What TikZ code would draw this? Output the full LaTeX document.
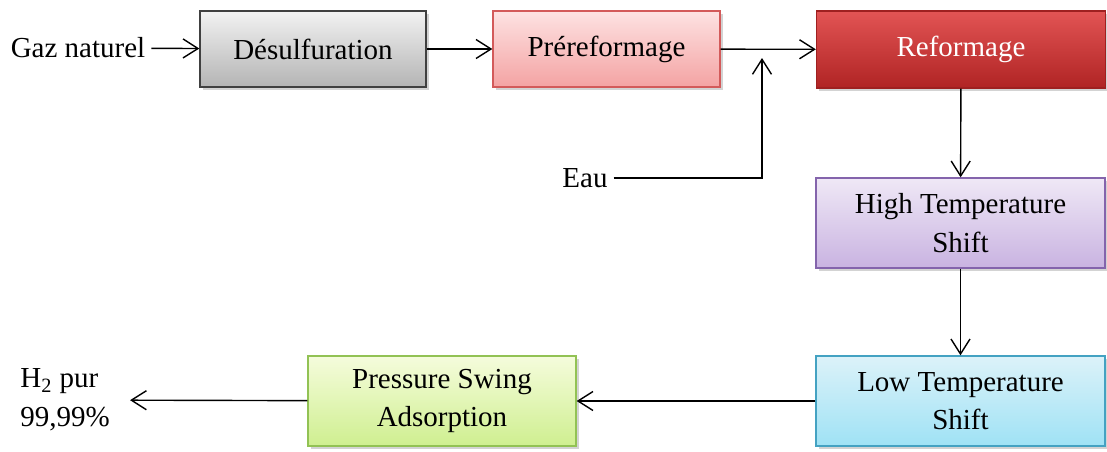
\documentclass[tikz,border=0pt]{standalone}
\usepackage{fontspec}
\setmainfont{Liberation Serif}
\usepackage{tikz}
\usetikzlibrary{arrows.meta,shadows}

\definecolor{greyTop}{HTML}{F2F2F2}
\definecolor{greyBot}{HTML}{B4B4B4}
\definecolor{pinkTop}{HTML}{FDE2E2}
\definecolor{pinkBot}{HTML}{F4A3A3}
\definecolor{pinkLine}{HTML}{D35A5A}
\definecolor{redTop}{HTML}{E25454}
\definecolor{redBot}{HTML}{B02424}
\definecolor{redLine}{HTML}{9E2020}
\definecolor{lilacTop}{HTML}{EFE8F6}
\definecolor{lilacBot}{HTML}{C9B3E1}
\definecolor{lilacLine}{HTML}{8464AC}
\definecolor{skyTop}{HTML}{DCF2F9}
\definecolor{skyBot}{HTML}{9FE2F5}
\definecolor{skyLine}{HTML}{44A2C2}
\definecolor{limeTop}{HTML}{F5FCDC}
\definecolor{limeBot}{HTML}{CFEF90}
\definecolor{limeLine}{HTML}{92C254}

\begin{document}
\begin{tikzpicture}[x=0.02cm, y=-0.02cm,
    every node/.style={font=\fontsize{16.5}{22}\selectfont},
    unit/.style={draw, rectangle, align=center, line width=0.8pt,
      drop shadow={shadow xshift=1.5pt, shadow yshift=-1.5pt, opacity=0.35}},
    flow/.style={-{Straight Barb[length=3mm, width=3.8mm]}, line width=0.8pt}]
  \useasboundingbox (0,0) rectangle (1107,451);
  % process units
  \node[unit, top color=greyTop, bottom color=greyBot, draw=black!75,
        minimum width=4.52cm, minimum height=1.52cm] (desulf) at (313,49) {Désulfuration};
  \node[unit, top color=pinkTop, bottom color=pinkBot, draw=pinkLine,
        minimum width=4.54cm, minimum height=1.52cm] (preref) at (606.5,49) {Préreformage};
  \node[unit, top color=redTop, bottom color=redBot, draw=redLine, text=white,
        minimum width=5.78cm, minimum height=1.54cm] (reform) at (961,49.5) {Reformage};
  \node[unit, top color=lilacTop, bottom color=lilacBot, draw=lilacLine,
        minimum width=5.78cm, minimum height=1.8cm] (hts) at (960.5,223) {High Temperature\\Shift};
  \node[unit, top color=skyTop, bottom color=skyBot, draw=skyLine,
        minimum width=5.78cm, minimum height=1.8cm] (lts) at (960.5,401) {Low Temperature\\Shift};
  \node[unit, top color=limeTop, bottom color=limeBot, draw=limeLine,
        minimum width=5.36cm, minimum height=1.8cm] (psa) at (442,401) {Pressure Swing\\Adsorption};
  % feeds and product
  \node (gaz) at (78,48) {Gaz naturel};
  \node (eau) at (585,178) {Eau};
  \node[anchor=west, align=left, inner sep=0pt] (h2) at (20,400) {H\textsubscript{2} pur\\99,99\%};
  \coordinate (mixin) at (762,58);
  % streams
  \draw[flow] (gaz) -- (desulf);
  \draw[flow] (desulf) -- (preref);
  \draw[flow] (preref) -- (reform);
  \draw[flow] (eau) -| (mixin);
  \draw[flow] (reform) -- (hts);
  \draw[flow] (hts) -- (lts);
  \draw[flow] (lts) -- (psa);
  \draw[flow, shorten >=4mm] (psa) -- (h2);
\end{tikzpicture}
\end{document}
